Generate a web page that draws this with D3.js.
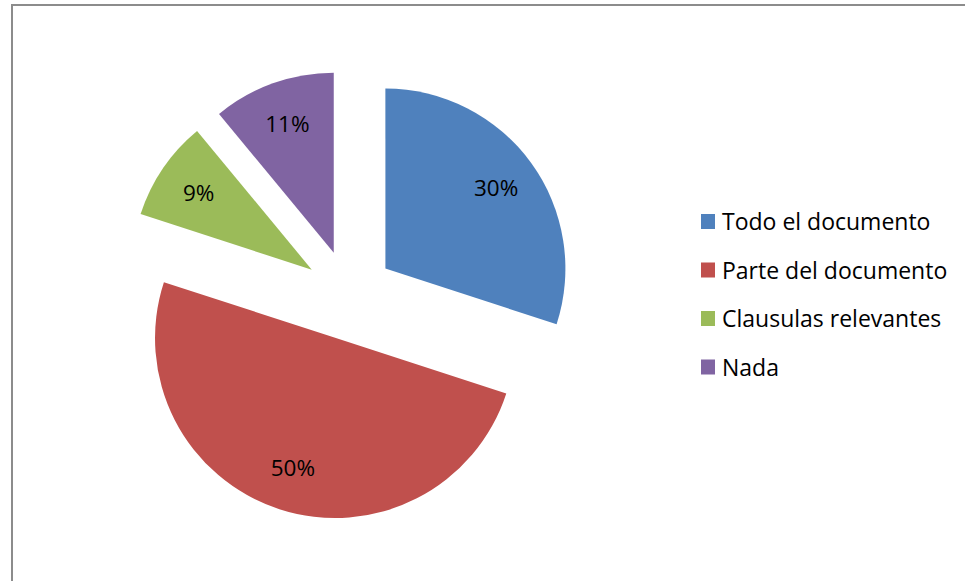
<!DOCTYPE html>
<html>
<head>
<meta charset="utf-8">
<script src="https://cdn.jsdelivr.net/npm/d3@7"></script>
<style>
  body { margin: 0; background: #fff; }
  text { font-family: "Open Sans", Lato, sans-serif; fill: #000; }
</style>
</head>
<body>
<svg width="965" height="581"></svg>
<script>
const categories = ["Todo el documento", "Parte del documento", "Clausulas relevantes", "Nada"];
const values = [30, 50, 9, 11];
const labels = ["30%", "50%", "9%", "11%"];
const colors = ["#4F81BD", "#C0504D", "#9BBB59", "#8064A2"];

const data = categories.map((c, i) => ({ name: c, value: values[i], label: labels[i], color: colors[i] }));

const cx = 349;
const cy = 295;
const r = 180;
const explode = 45;

const svg = d3.select("svg");

// outer frame (only left and top edges fall inside the picture)
svg.append("rect")
  .attr("x", 12)
  .attr("y", 5)
  .attr("width", 1000)
  .attr("height", 700)
  .attr("fill", "none")
  .attr("stroke", "#8c8c8c")
  .attr("stroke-width", 2);

const pie = d3.pie().sort(null).value(d => d.value);
const arc = d3.arc().innerRadius(0).outerRadius(r);
const labelArc = d3.arc().innerRadius(r * 0.76).outerRadius(r * 0.76);

const chart = svg.append("g").attr("transform", `translate(${cx}, ${cy})`);

const slices = chart
  .selectAll("g.slice")
  .data(pie(data))
  .enter()
  .append("g")
  .attr("class", "slice")
  .attr("transform", d => {
    const a = (d.startAngle + d.endAngle) / 2;
    return `translate(${explode * Math.sin(a)}, ${-explode * Math.cos(a)})`;
  });

slices.append("path")
  .attr("d", arc)
  .attr("fill", d => d.data.color);

slices.append("text")
  .attr("transform", d => `translate(${labelArc.centroid(d)})`)
  .attr("text-anchor", "middle")
  .attr("dy", "0.36em")
  .attr("font-size", 22.5)
  .text(d => d.data.label);

const legend = svg.append("g").attr("transform", "translate(701, 222)");

const item = legend
  .selectAll("g")
  .data(data)
  .enter()
  .append("g")
  .attr("transform", (d, i) => `translate(0, ${i * 48.5})`);

item.append("rect")
  .attr("x", 0)
  .attr("y", -8)
  .attr("width", 14)
  .attr("height", 15)
  .attr("fill", d => d.color);

item.append("text")
  .attr("x", 21)
  .attr("y", 0)
  .attr("dy", "0.36em")
  .attr("font-size", 23)
  .text(d => d.name);
</script>
</body>
</html>
